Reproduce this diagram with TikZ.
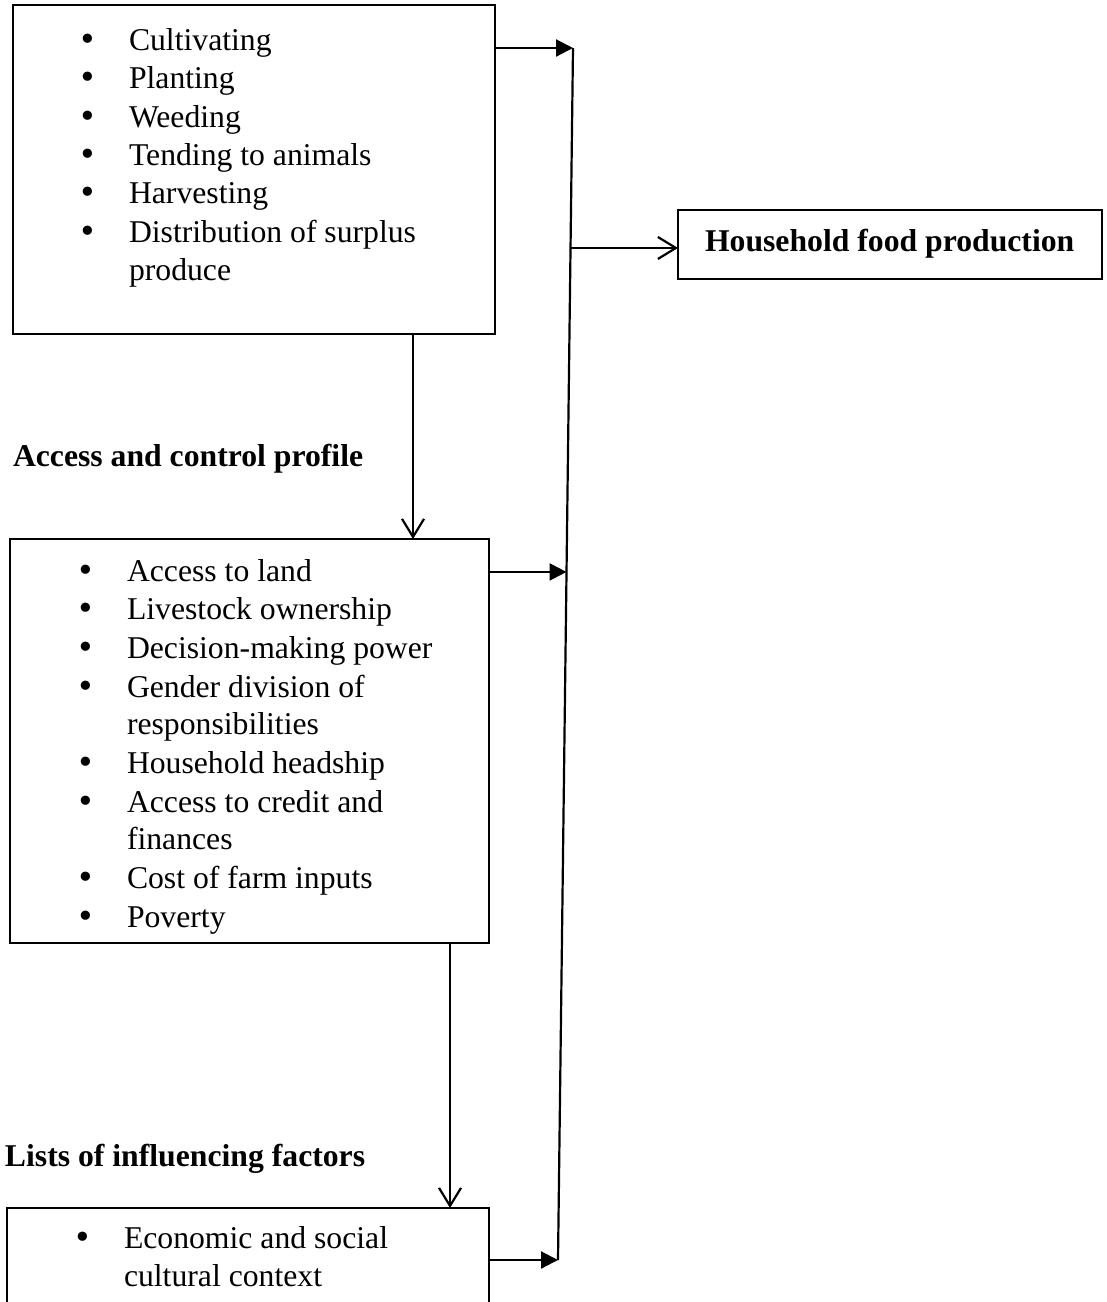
\documentclass[tikz,border=0pt]{standalone}
\usepackage{fontspec}
\setmainfont{Liberation Serif}
\newfontfamily\bulfont{DejaVu Sans}
\usetikzlibrary{arrows.meta,calc}
\begin{document}
\begin{tikzpicture}[x=1pt,y=-1pt,
  every node/.style={inner sep=0pt,outer sep=0pt},
  boxst/.style={draw,line width=2pt,anchor=north west},
  txt/.style={anchor=base west,font=\fontsize{31.7}{38}\selectfont},
  bul/.style={anchor=base,font=\fontsize{31.7}{38}\selectfont\bulfont},
  bld/.style={anchor=base west,font=\fontsize{31.7}{38}\selectfont\bfseries},
  conn/.style={line width=2.2pt},
  filled/.style={conn,-{Triangle[length=17pt,width=17pt]}},
  openarr/.style={conn,-{Straight Barb[length=18pt,width=22pt]}}]
\useasboundingbox (0,0) rectangle (1107,1302);
% boxes
\node[boxst,minimum width=482pt,minimum height=329pt] (b1) at (13,5) {};
\node[boxst,minimum width=479pt,minimum height=404pt] (b2) at (10,539) {};
\node[draw=none,anchor=north west,minimum width=482pt,minimum height=94pt] (b3) at (7,1208) {};
\draw[line width=2pt] (b3.south west) -- (b3.north west) -- (b3.north east) -- (b3.south east);
\node[boxst,minimum width=424pt,minimum height=69pt] (hf) at (678,210) {};
% box 1 text
\node[bul] (p1) at (88,50) {•};
\node[txt] (t1) at (129,50) {Cultivating};
\node[bul] (p2) at (88,88) {•};
\node[txt] (t2) at (129,88) {Planting};
\node[bul] (p3) at (88,127) {•};
\node[txt] (t3) at (129,127) {Weeding};
\node[bul] (p4) at (88,165) {•};
\node[txt] (t4) at (129,165) {Tending to animals};
\node[bul] (p5) at (88,203) {•};
\node[txt] (t5) at (129,203) {Harvesting};
\node[bul] (p6) at (88,242) {•};
\node[txt] (t6) at (129,242) {Distribution of surplus};
\node[txt] (t7) at (129,280) {produce};
% box 2 text
\node[bul] (q1) at (86,581) {•};
\node[txt] (s1) at (127,581) {Access to land};
\node[bul] (q2) at (86,619) {•};
\node[txt] (s2) at (127,619) {Livestock ownership};
\node[bul] (q3) at (86,658) {•};
\node[txt] (s3) at (127,658) {Decision-making power};
\node[bul] (q4) at (86,697) {•};
\node[txt] (s4) at (127,697) {Gender division of};
\node[txt] (s5) at (127,734) {responsibilities};
\node[bul] (q6) at (86,773) {•};
\node[txt] (s6) at (127,773) {Household headship};
\node[bul] (q7) at (86,812) {•};
\node[txt] (s7) at (127,812) {Access to credit and};
\node[txt] (s8) at (127,849) {finances};
\node[bul] (q9) at (86,888) {•};
\node[txt] (s9) at (127,888) {Cost of farm inputs};
\node[bul] (q10) at (86,927) {•};
\node[txt] (s10) at (127,927) {Poverty};
% box 3 text
\node[bul] (r1) at (83,1248) {•};
\node[txt] (u1) at (124,1248) {Economic and social};
\node[txt] (u2) at (124,1286) {cultural context};
% labels
\node[bld] (lab1) at (13,466) {Access and control profile};
\node[bld] (lab2) at (5,1166) {Lists of influencing factors};
\node[bld] (hft) at (705,251) {Household food production};
% vertical collector line
\coordinate (vtop) at (573,48);
\coordinate (vbot) at (558,1260);
\draw[conn] (vtop) -- (vbot);
% arrows into collector
\draw[filled] (b1.east |- vtop) -- (vtop);
\coordinate (v2) at ($(vtop)!0.4323!(vbot)$);
\draw[filled] (b2.east |- v2) -- (v2);
\draw[filled] (b3.east |- vbot) -- (vbot);
% collector to output
\coordinate (v1) at ($(vtop)!0.165!(vbot)$);
\draw[openarr] (v1) -- (hf.west |- v1);
% vertical flow
\draw[openarr] (b1.south -| 413,0) -- (b2.north -| 413,0);
\draw[openarr] (b2.south -| 450,0) -- (b3.north -| 450,0);
\end{tikzpicture}
\end{document}
